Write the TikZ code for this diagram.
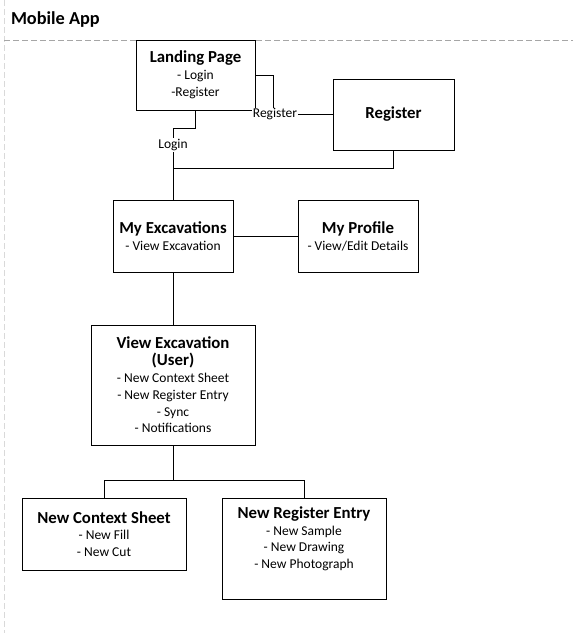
\documentclass[tikz,border=0pt]{standalone}
\usepackage{fontspec}
\setmainfont{Carlito}
\usetikzlibrary{positioning}
\newcommand*{\pagetitle}[1]{{\fontsize{16.8}{20}\selectfont\bfseries #1}}
\begin{document}
\begin{tikzpicture}[x=1pt,y=-1pt,inner sep=0pt,outer sep=0pt,line width=1pt,
pagebox/.style={draw,rectangle,align=center,font=\fontsize{13.5}{16.8}\selectfont},
linklabel/.style={fill=white,inner sep=1pt,font=\fontsize{13.5}{16}\selectfont},
divider/.style={line width=0.8pt,dash pattern=on 6pt off 3pt}]
\useasboundingbox (0,0) rectangle (573,633);
\draw[divider,black!15] (4,0) -- (4,633);
\draw[divider,black!35] (4,40) -- (573,40);
\node[anchor=west,font=\fontsize{18.3}{21}\selectfont\bfseries] (apptitle) at (11,20) {Mobile App};
% pages
\node[pagebox,minimum width=119pt,minimum height=70pt] (landing) at (195.5,75) {\pagetitle{Landing Page}\\- Login\\-Register};
\node[pagebox,minimum width=121pt,minimum height=71pt] (register) at (393.5,114.5) {\pagetitle{Register}};
\node[pagebox,minimum width=120pt,minimum height=72pt] (myexc) at (173,236) {\pagetitle{My Excavations}\\- View Excavation};
\node[pagebox,minimum width=120pt,minimum height=72pt] (profile) at (358,236) {\pagetitle{My Profile}\\- View/Edit Details};
\node[pagebox,minimum width=164pt,minimum height=120pt] (viewexc) at (173,385) {\pagetitle{View Excavation}\\\pagetitle{(User)}\\- New Context Sheet\\- New Register Entry\\- Sync\\- Notifications};
\node[pagebox,minimum width=164pt,minimum height=72pt] (ctxsheet) at (104,534) {\pagetitle{New Context Sheet}\\- New Fill\\- New Cut};
\node[pagebox,minimum width=164pt,minimum height=101pt] (regentry) at (304,548.5) {\pagetitle{New Register Entry}\\- New Sample\\- New Drawing\\- New Photograph\\\strut};
% links
\draw (landing.east) -- ++(18,0) |- (register.west) node[pos=0.5,xshift=2pt,linklabel] {Register};
\draw (landing.south) -- ++(0,18) -| (myexc.north) node[pos=0.62,linklabel] {Login};
\draw (register.south) -- ++(0,18) -| (myexc.north);
\draw (myexc) -- (profile);
\draw (myexc) -- (viewexc);
\draw (viewexc.south) -- ++(0,35) -| (ctxsheet.north);
\draw (viewexc.south) -- ++(0,35) -| (regentry.north);
\end{tikzpicture}
\end{document}
